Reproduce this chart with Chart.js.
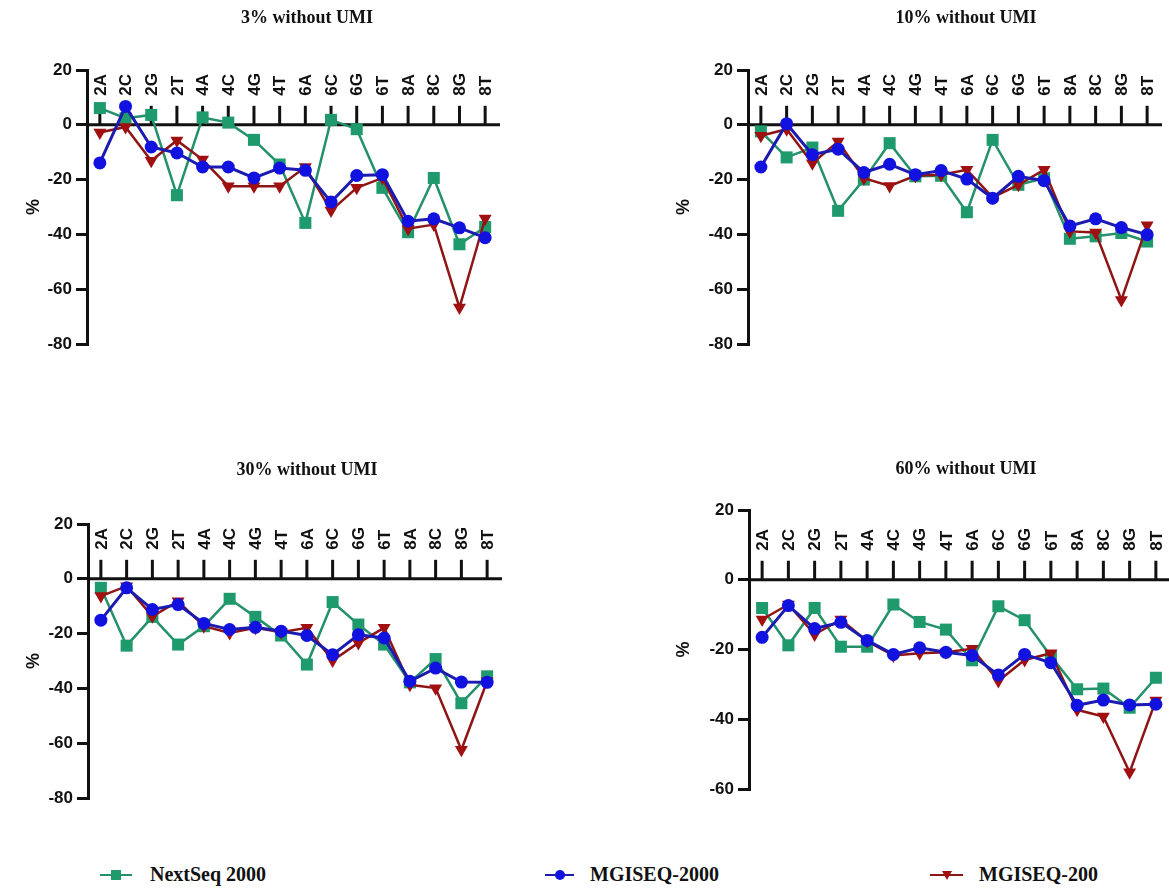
<!DOCTYPE html>
<html><head><meta charset="utf-8">
<script src="https://cdn.jsdelivr.net/npm/chart.js@4.4.1/dist/chart.umd.min.js"></script>
<style>
body{margin:0;background:#fff;width:1169px;height:889px;overflow:hidden;position:relative;}
canvas{position:absolute;}
.lt{position:absolute;font:bold 20px "Times New Roman","Liberation Serif",serif;color:#111;line-height:22px;white-space:nowrap;}
.ll{position:absolute;height:2px;}
</style></head><body>
<canvas id="c1"></canvas><canvas id="c2"></canvas><canvas id="c3"></canvas><canvas id="c4"></canvas>
<div id="legend"></div>
<script>
// ---------- data ----------
const categories = ['2A','2C','2G','2T','4A','4C','4G','4T','6A','6C','6G','6T','8A','8C','8G','8T'];
const seriesNames = ['NextSeq 2000','MGISEQ-2000','MGISEQ-200'];
const panelTitles = ['3% without UMI','10% without UMI','30% without UMI','60% without UMI'];
const yTicksTop = [-80,-60,-40,-20,0,20];
const yTicksBottomRight = [-60,-40,-20,0,20];

// 3% without UMI
const nextseq_3  = [6.1,2.4,3.6,-25.7,2.7,0.8,-5.5,-14.5,-35.8,1.8,-1.6,-23.0,-39.2,-19.4,-43.6,-37.3];
const mgi2000_3  = [-13.9,6.7,-8.1,-10.3,-15.4,-15.4,-19.4,-15.8,-16.6,-28.2,-18.5,-18.2,-35.2,-34.3,-37.6,-41.2];
const mgi200_3   = [-2.8,-0.8,-13.1,-5.7,-12.7,-22.4,-22.4,-22.4,-15.4,-31.3,-23.0,-19.4,-37.9,-36.4,-66.7,-34.2];
// 10% without UMI
const nextseq_10 = [-2.4,-11.9,-8.3,-31.4,-20.0,-6.7,-18.8,-18.6,-31.9,-5.5,-21.9,-19.5,-41.6,-40.7,-39.5,-42.6];
const mgi2000_10 = [-15.4,0.4,-10.9,-8.9,-17.4,-14.4,-18.2,-16.7,-19.8,-26.8,-18.8,-20.4,-36.9,-34.3,-37.5,-40.1];
const mgi200_10  = [-4.0,-1.6,-14.0,-6.1,-19.5,-22.3,-18.6,-18.2,-16.4,-26.5,-21.9,-16.4,-38.9,-39.3,-63.9,-36.7];
// 30% without UMI
const nextseq_30 = [-3.3,-24.4,-13.9,-24.0,-17.3,-7.3,-13.9,-20.7,-31.3,-8.5,-16.7,-24.0,-37.8,-29.3,-45.4,-35.6];
const mgi2000_30 = [-15.1,-3.3,-11.2,-9.4,-16.3,-18.5,-17.7,-19.1,-20.7,-27.7,-20.4,-21.6,-37.4,-32.6,-37.7,-37.8];
const mgi200_30  = [-6.3,-2.7,-13.7,-8.2,-17.3,-19.8,-17.9,-19.5,-17.9,-29.8,-23.4,-17.9,-38.7,-39.9,-62.4,-37.4];
// 60% without UMI
const nextseq_60 = [-8.1,-18.8,-8.1,-19.2,-19.2,-7.1,-12.1,-14.3,-23.1,-7.6,-11.6,-21.9,-31.4,-31.2,-36.7,-28.1];
const mgi2000_60 = [-16.5,-7.4,-14.0,-12.2,-17.4,-21.4,-19.5,-20.8,-21.7,-27.3,-21.4,-23.8,-36.0,-34.5,-35.9,-35.7];
const mgi200_60  = [-11.4,-7.1,-15.7,-11.4,-17.6,-21.7,-21.1,-20.8,-19.8,-29.0,-23.0,-21.1,-37.3,-39.2,-55.2,-34.6];

// ---------- styles / layout ----------
const AXIS_FONT = 'Arial, "Liberation Sans", sans-serif';
const SERIF = '"Times New Roman", "Liberation Serif", serif';
const TITLE_SIZE = 18;
const styles = [
  {line:'#24916b', fill:'#1f9a6c', pointStyle:'rect', radius:8.5, rotation:0, width:2.5, order:3},
  {line:'#1b1bb0', fill:'#1212e0', pointStyle:'circle', radius:6.5, rotation:0, width:3, order:1},
  {line:'#8e1515', fill:'#a01010', pointStyle:'triangle', radius:7.5, rotation:180, width:2.5, order:2}
];
const layouts = [
  {id:'c1', left:0,   top:0,   aL:87,  aR:498,  aT:70,  aB:344, pctX:34,  titleX:307, titleY:18,  ticks:yTicksTop},
  {id:'c2', left:661, top:0,   aL:748, aR:1160, aT:70,  aB:344, pctX:684, titleX:966, titleY:18,  ticks:yTicksTop},
  {id:'c3', left:1,   top:452, aL:88,  aR:500,  aT:524, aB:798, pctX:34,  titleX:307, titleY:470, ticks:yTicksTop},
  {id:'c4', left:662, top:451, aL:749, aR:1169, aT:510, aB:789, pctX:684, titleX:966, titleY:469, ticks:yTicksBottomRight}
];
const panelData = [
  [nextseq_3, mgi2000_3, mgi200_3],
  [nextseq_10, mgi2000_10, mgi200_10],
  [nextseq_30, mgi2000_30, mgi200_30],
  [nextseq_60, mgi2000_60, mgi200_60]
];

const topAxis = {
  id:'topAxis',
  beforeDatasetsDraw(chart){
    const {ctx, chartArea, scales:{x, y}} = chart;
    const y0 = y.getPixelForValue(0);
    ctx.save();
    ctx.strokeStyle = '#111'; ctx.lineWidth = 3;
    ctx.beginPath(); ctx.moveTo(chartArea.left, y0); ctx.lineTo(chartArea.right + 2, y0); ctx.stroke();
    ctx.font = 'bold 17px ' + AXIS_FONT;
    ctx.fillStyle = '#111'; ctx.textAlign = 'left'; ctx.textBaseline = 'middle';
    categories.forEach((c, i) => {
      const px = x.getPixelForValue(i);
      ctx.beginPath(); ctx.moveTo(px, y0 - 19); ctx.lineTo(px, y0); ctx.stroke();
      ctx.save(); ctx.translate(px + 1, y0 - 29); ctx.rotate(-Math.PI / 2); ctx.fillText(c, 0, 0); ctx.restore();
    });
    ctx.restore();
  }
};

layouts.forEach((L, p) => {
  const cv = document.getElementById(L.id);
  const W = 2 * (L.titleX - L.left), H = L.aB + 20 - L.top;
  const spacerRight = W - (L.aR - L.left);
  cv.width = W; cv.height = H;
  cv.style.left = L.left + 'px'; cv.style.top = L.top + 'px';
  const tMin = L.ticks[0], tMax = L.ticks[L.ticks.length - 1];
  const tLH = TITLE_SIZE * 1.2, tPadTop = L.titleY - L.top - tLH / 2;
  new Chart(cv, {
    type:'line',
    data:{
      labels: categories,
      datasets: seriesNames.map((name, s) => ({
        label: name,
        data: panelData[p][s],
        borderColor: styles[s].line,
        backgroundColor: styles[s].fill,
        pointBackgroundColor: styles[s].fill,
        pointBorderColor: styles[s].fill,
        pointStyle: styles[s].pointStyle,
        pointRadius: styles[s].radius,
        pointRotation: styles[s].rotation,
        pointBorderWidth: 0,
        borderWidth: styles[s].width,
        tension: 0,
        order: styles[s].order,
        clip: false
      }))
    },
    options:{
      responsive:false, animation:false, devicePixelRatio:1,
      layout:{padding:{left:0, right:0, top:0, bottom:20}},
      plugins:{
        legend:{display:false}, tooltip:{enabled:false},
        title:{display:true, text:panelTitles[p], fullSize:true, color:'#111',
          font:{family:SERIF, size:TITLE_SIZE, weight:'bold', lineHeight:1.2},
          padding:{top:tPadTop, bottom:L.aT - L.top - tPadTop - tLH}}
      },
      scales:{
        x:{type:'category', offset:true, display:false},
        y:{
          min:tMin, max:tMax,
          afterFit(s){ s.width = L.aL - L.left; },
          afterBuildTicks(s){ s.ticks = L.ticks.map(v => ({value:v})); },
          border:{display:true, color:'#111', width:3},
          grid:{display:true, drawOnChartArea:false, drawTicks:true, tickLength:11, color:'#111', lineWidth:3},
          ticks:{color:'#111', padding:4, font:{family:AXIS_FONT, size:17, weight:'bold'}},
          title:{display:true, text:'%', color:'#111',
            font:{family:AXIS_FONT, size:18, weight:'bold', lineHeight:1.2},
            padding:{top:L.pctX - L.left - 10.8, bottom:0}}
        },
        // empty right-hand spacer so the full-width title sits where the reference has it
        spacer:{
          type:'linear', position:'right', min:tMin, max:tMax, display:true,
          grid:{display:false, drawTicks:false}, border:{display:false},
          ticks:{display:false},
          afterFit(s){ s.width = spacerRight; }
        }
      }
    },
    plugins:[topAxis]
  });
});

// ---------- legend (HTML) ----------
const legendPos = [
  {lineL:100, lineW:32, textL:150},
  {lineL:545, lineW:29, textL:590},
  {lineL:930, lineW:33, textL:979}
];
const LY = 875;
const leg = document.getElementById('legend');
seriesNames.forEach((name, s) => {
  const P = legendPos[s], st = styles[s];
  const line = document.createElement('div');
  line.className = 'll';
  line.style.cssText += `left:${P.lineL}px;top:${LY-1}px;width:${P.lineW}px;background:${st.line};`;
  leg.appendChild(line);
  const m = document.createElement('div');
  const cx = P.lineL + P.lineW / 2;
  if (st.pointStyle === 'rect') {
    m.style.cssText = `position:absolute;left:${cx-5}px;top:${LY-5}px;width:10px;height:10px;background:${st.fill};`;
  } else if (st.pointStyle === 'circle') {
    m.style.cssText = `position:absolute;left:${cx-5}px;top:${LY-5}px;width:10px;height:10px;border-radius:50%;background:${st.fill};`;
  } else {
    m.style.cssText = `position:absolute;left:${cx-5}px;top:${LY-4}px;width:0;height:0;border-left:5px solid transparent;border-right:5px solid transparent;border-top:9px solid ${st.fill};`;
  }
  leg.appendChild(m);
  const t = document.createElement('div');
  t.className = 'lt';
  t.style.left = P.textL + 'px'; t.style.top = (LY - 12) + 'px';
  t.textContent = name;
  leg.appendChild(t);
});
</script>
</body></html>
